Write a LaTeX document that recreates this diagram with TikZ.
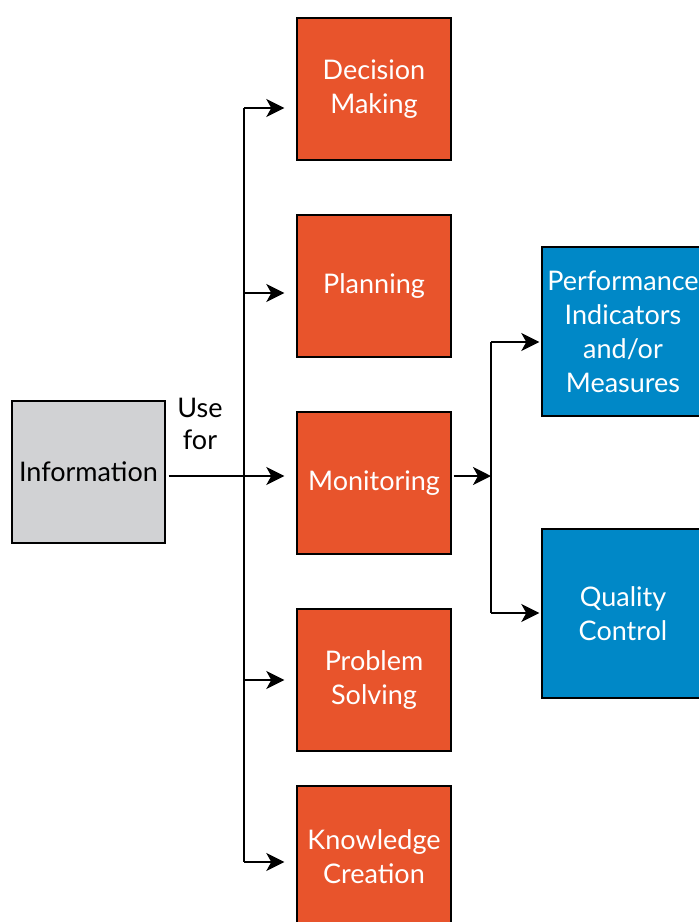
\documentclass[tikz,border=0pt]{standalone}
\usepackage{fontspec}
\setmainfont{Lato}
\usetikzlibrary{arrows.meta,calc}
\definecolor{orangebox}{HTML}{E8542C}
\definecolor{bluebox}{HTML}{0088C7}
\definecolor{greybox}{HTML}{D1D2D4}
\begin{document}
\begin{tikzpicture}[x=1pt,y=-1pt,
  box/.style={draw=black,line width=1.4pt,minimum width=154pt,minimum height=142pt,inner sep=0pt,align=center,font=\fontsize{27}{34}\selectfont},
  obox/.style={box,fill=orangebox,text=white},
  bbox/.style={box,fill=bluebox,text=white,minimum width=162pt,minimum height=169pt},
  gbox/.style={box,fill=greybox,text=black,minimum width=153pt},
  conn/.style={line width=2pt},
  arr/.style={conn,-{Stealth[length=18pt,width=18pt,inset=5pt]}}]
\useasboundingbox (0,0) rectangle (699,922);
\node[gbox] (info) at (88.5,472) {Information};
\node[obox] (dm) at (374,89) {Decision\\Making};
\node[obox] (pl) at (374,286) {Planning};
\node[obox] (mo) at (374,483) {Monitoring};
\node[obox] (ps) at (374,680) {Problem\\Solving};
\node[obox] (kc) at (374,857) {Knowledge\\Creation};
\node[bbox] (pi) at (623,331.5) {Performance\\Indicators\\and/or\\Measures};
\node[bbox] (qc) at (623,613.5) {Quality\\Control};
\node[font=\fontsize{27}{32}\selectfont,align=center] (use) at (200,424) {Use\\for};
\coordinate (t1) at (244,108);
\coordinate (t2) at (244,293);
\coordinate (t3) at (244,476);
\coordinate (t4) at (244,680);
\coordinate (t5) at (244,862);
\coordinate (s1) at (491,342);
\coordinate (s2) at (491,476);
\coordinate (s3) at (491,613);
\draw[conn] (t1) -- (t5);
\draw[arr,shorten >=12pt] (t1) -- (t1 -| dm.west);
\draw[arr,shorten >=12pt] (t2) -- (t2 -| pl.west);
\draw[arr,shorten >=12pt,shorten <=3pt] (info.east |- t3) -- (t3 -| mo.west);
\draw[arr,shorten >=12pt] (t4) -- (t4 -| ps.west);
\draw[arr,shorten >=12pt] (t5) -- (t5 -| kc.west);
\draw[arr,shorten <=2pt] (mo.east |- s2) -- (s2);
\draw[conn] (s1) -- (s3);
\draw[arr,shorten >=2pt] (s1) -- (s1 -| pi.west);
\draw[arr,shorten >=2pt] (s3) -- (s3 -| qc.west);
\end{tikzpicture}
\end{document}
